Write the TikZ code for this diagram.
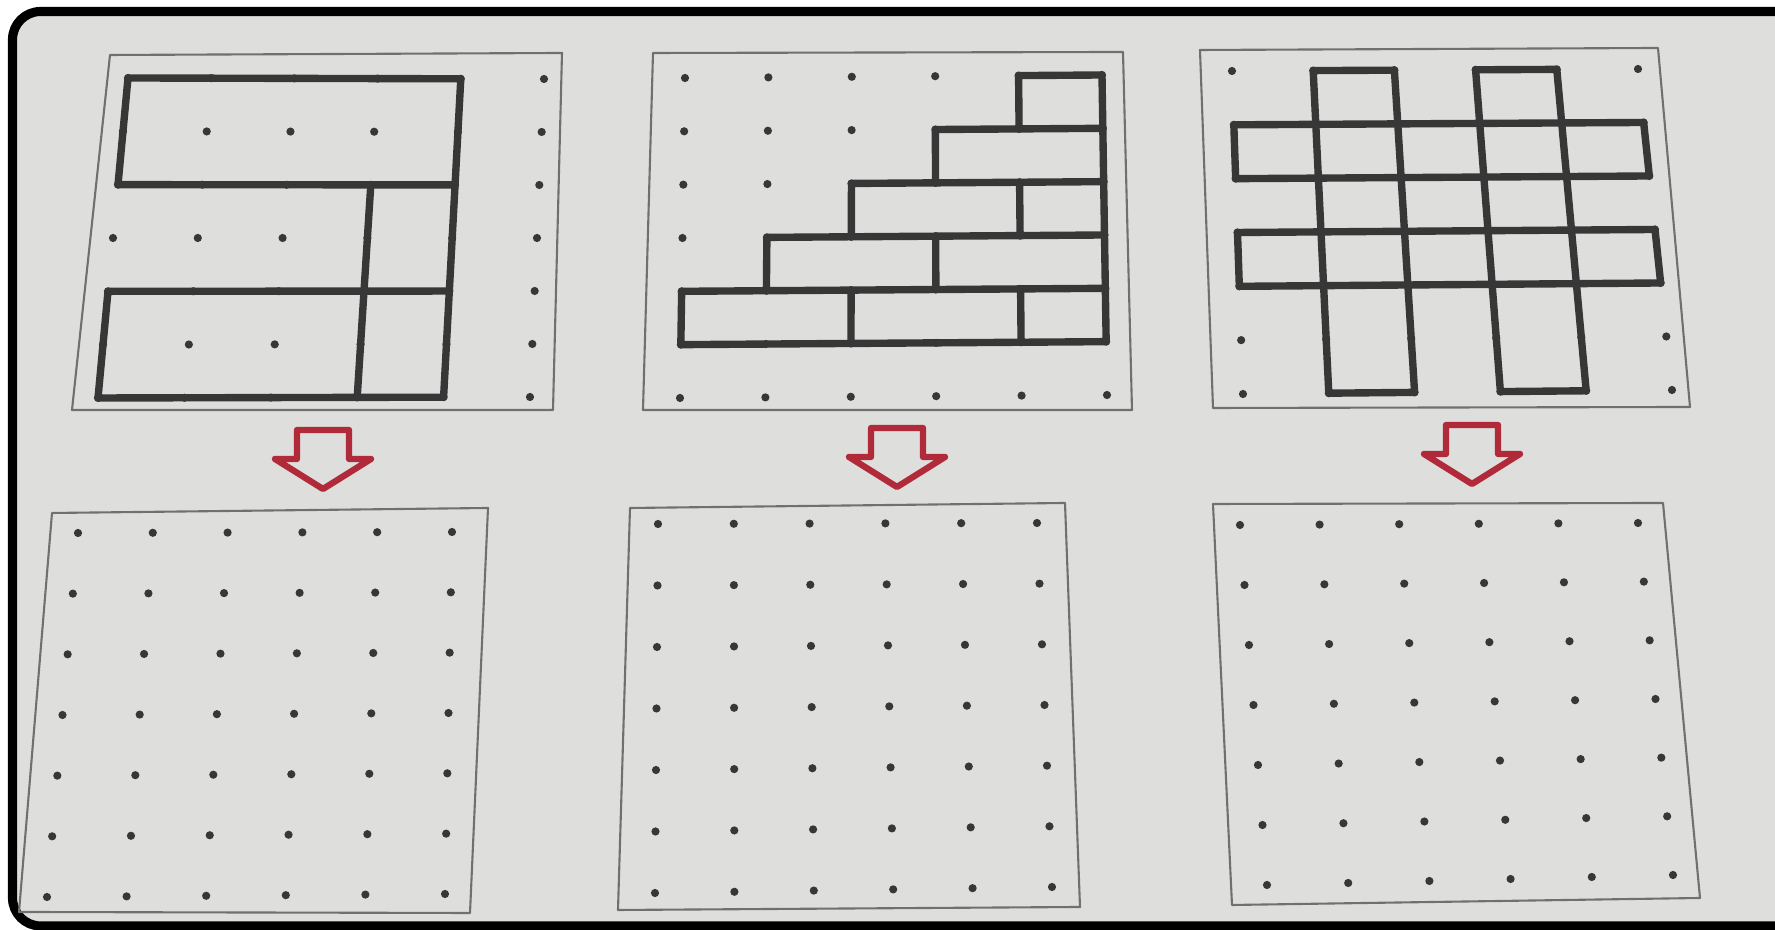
\documentclass[tikz,border=0pt]{standalone}
\usepackage{tikz}
\usetikzlibrary{calc}

\definecolor{paper}{RGB}{222,222,220}
\definecolor{ink}{RGB}{55,55,55}
\definecolor{pencil}{RGB}{112,112,112}
\definecolor{marker}{RGB}{176,42,58}

\newcommand{\pegboard}[1]{%
  \foreach \i in {0,...,5}{
    \foreach \j in {0,...,6}{
      \coordinate (#1-\i-\j) at ($($(#1-nw)!\i/5!(#1-ne)$)!\j/6!($(#1-sw)!\i/5!(#1-se)$)$);
      \fill[peg] (#1-\i-\j) circle[radius=4.1];
    }
  }
}

\begin{document}
\begin{tikzpicture}[
    x=0.1mm, y=-0.1mm,
    peg/.style={fill=ink},
    panel/.style={draw=pencil, line width=0.6pt, line join=round},
    tiling/.style={draw=ink, line width=2.1pt, line join=round, line cap=round},
    hint/.style={draw=marker, line width=1.8pt, line join=round},
    rim/.style={draw=black, line width=2.6pt, rounded corners=8}
]
\useasboundingbox (0,0) rectangle (1775,930);
\fill[white] (0,0) rectangle (1775,930);
\fill[paper] (17,16) rectangle (1775,922);
\draw[rim] (1775,11.5) -- (12.5,11.5) -- (12.5,926) -- (1775,926);

\draw[panel] (110,55) -- (562,53) -- (553,410) -- (72,410) -- cycle;
\draw[panel] (653,53) -- (1123,52) -- (1132,410) -- (643,410) -- cycle;
\draw[panel] (1200,50) -- (1658,48) -- (1690,407) -- (1213,408) -- cycle;
\draw[panel] (52,513) -- (488,508) -- (470,913) -- (19,912) -- cycle;
\draw[panel] (630,508) -- (1065,503) -- (1080,907) -- (618,910) -- cycle;
\draw[panel] (1213,504) -- (1663,503) -- (1700,898) -- (1232,905) -- cycle;

\coordinate (topA-nw) at (128,78);
\coordinate (topA-ne) at (544,79);
\coordinate (topA-sw) at (98,398);
\coordinate (topA-se) at (530,397);
\coordinate (topB-nw) at (685,78);
\coordinate (topB-ne) at (1102,75);
\coordinate (topB-sw) at (680,398);
\coordinate (topB-se) at (1107,395);
\coordinate (topC-nw) at (1232,71);
\coordinate (topC-ne) at (1638,69);
\coordinate (topC-sw) at (1243,394);
\coordinate (topC-se) at (1672,390);
\coordinate (botA-nw) at (78,533);
\coordinate (botA-ne) at (452,532);
\coordinate (botA-sw) at (47,897);
\coordinate (botA-se) at (445,894);
\coordinate (botB-nw) at (658,524);
\coordinate (botB-ne) at (1037,523);
\coordinate (botB-sw) at (655,893);
\coordinate (botB-se) at (1052,887);
\coordinate (botC-nw) at (1240,525);
\coordinate (botC-ne) at (1638,523);
\coordinate (botC-sw) at (1267,885);
\coordinate (botC-se) at (1673,875);

\pegboard{topA}
\pegboard{topB}
\pegboard{topC}
\pegboard{botA}
\pegboard{botB}
\pegboard{botC}

\draw[tiling] (topA-0-2) -- (topA-0-0) -- (topA-4-0) -- (topA-4-6) -- (topA-0-6) -- (topA-0-4) -- (topA-4-4);
\draw[tiling] (topA-0-2) -- (topA-4-2);
\draw[tiling] (topA-3-2) -- (topA-3-6);

\draw[tiling] (topB-4-0) -- (topB-5-0) -- (topB-5-5) -- (topB-0-5) -- (topB-0-4) -- (topB-1-4) -- (topB-1-3)
  -- (topB-2-3) -- (topB-2-2) -- (topB-3-2) -- (topB-3-1) -- (topB-4-1) -- cycle;
\foreach \a/\b in {4/1,3/2,2/3,1/4}
  \draw[tiling] (topB-\a-\b) -- (topB-5-\b);
\draw[tiling] (topB-4-2) -- (topB-4-3);
\draw[tiling] (topB-3-3) -- (topB-3-4);
\draw[tiling] (topB-2-4) -- (topB-2-5);
\draw[tiling] (topB-4-4) -- (topB-4-5);

\foreach \a/\b in {1/2,3/4}{
  \draw[tiling] (topC-\a-0) -- (topC-\b-0) -- (topC-\b-6) -- (topC-\a-6) -- cycle;
  \draw[tiling] (topC-0-\a) -- (topC-5-\a) -- (topC-5-\b) -- (topC-0-\b) -- cycle;
}

\foreach \x/\y in {297/430,871/428,1446/425}
  \draw[hint] (\x,\y) -- ++(52,0) -- ++(0,29) -- ++(22,0) -- ++(-48,30) -- ++(-48,-30) -- ++(22,0) -- cycle;
\end{tikzpicture}
\end{document}
